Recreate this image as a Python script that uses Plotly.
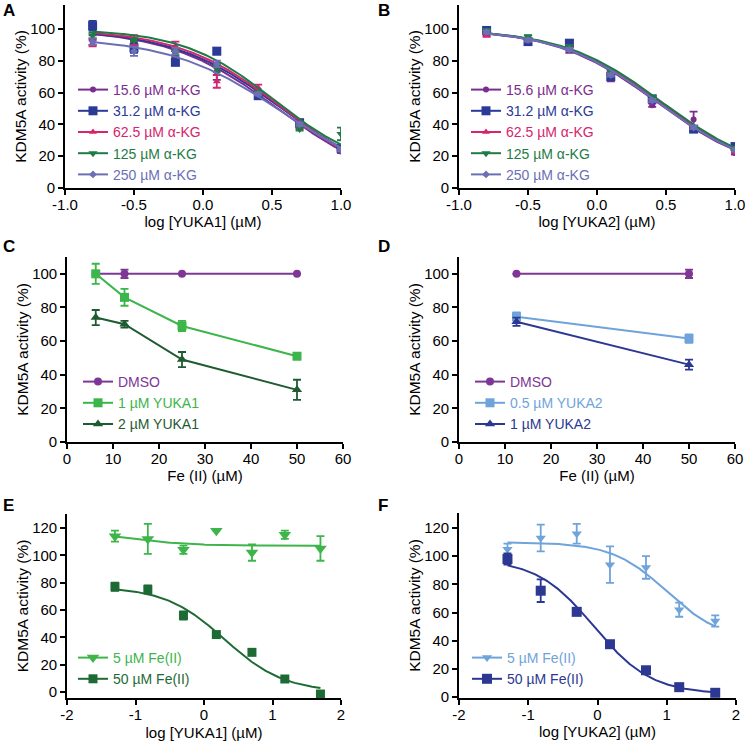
import numpy as np
import plotly.graph_objects as go

W, H = 745, 741
FONT = "Liberation Sans, Arial, sans-serif"

# ---------------- Panel A / B data ----------------
log_yuka_ab = [-0.8, -0.5, -0.2, 0.1, 0.4, 0.7, 1.0]
akg_labels = ["15.6 µM α-KG", "31.2 µM α-KG", "62.5 µM α-KG", "125 µM α-KG", "250 µM α-KG"]
akg_colors = ["#7B2D8F", "#2B3A97", "#D6246E", "#1E7B45", "#6B6FB5"]
akg_symbols = ["circle", "square", "triangle-up", "triangle-down", "diamond"]
akg_sizes = [6, 9, 7, 8, 6]

a_15_6 = [93, 91, 84, 73, 58, 40, 23]
a_31_2 = [102, 88, 79, 86, 58, 41, 25]
a_62_5 = [91, 93, 89, 67, 63, 38, 24]
a_125 = [96, 93, 85, 75, 60, 37, 34]
a_250 = [92, 86, 86, 78, 59, 40, 24]
a_err_15_6 = [3, 2, 2, 5, 2, 2, 1]
a_err_31_2 = [3, 3, 2, 2, 2, 2, 1]
a_err_62_5 = [2, 3, 3, 4, 2, 1, 1]
a_err_125 = [2, 1, 2, 2, 1, 1, 4]
a_err_250 = [2, 3, 2, 2, 1, 1, 1]
# fit parameters (top, bottom, logIC50, hill)
a_fit = [(100, 0, 0.54, 1.10), (100, 0, 0.57, 1.10), (100, 0, 0.58, 1.15),
         (100, 10, 0.52, 1.30), (95, 0, 0.58, 1.05)]

b_15_6 = [97, 93, 87, 69, 52, 43, 22]
b_31_2 = [99, 92, 91, 70, 56, 37, 26]
b_62_5 = [96, 93, 88, 72, 55, 38, 23]
b_125 = [99, 95, 89, 73, 57, 38, 25]
b_250 = [98, 93, 87, 71, 55, 38, 24]
b_err_15_6 = [1, 1, 2, 2, 1, 5, 1]
b_err_31_2 = [1, 2, 2, 2, 1, 1, 2]
b_err_62_5 = [1, 1, 1, 1, 1, 1, 1]
b_err_125 = [1, 1, 1, 1, 1, 1, 1]
b_err_250 = [1, 1, 1, 1, 1, 1, 1]
b_fit = [(100, 8, 0.43, 1.20), (100, 8, 0.45, 1.20), (100, 8, 0.45, 1.20),
         (100, 8, 0.47, 1.20), (100, 8, 0.44, 1.20)]

# ---------------- Panel C / D data ----------------
fe_c = [6.25, 12.5, 25, 50]
c_labels = ["DMSO", "1 µM YUKA1", "2 µM YUKA1"]
c_colors = ["#7E3794", "#3CB54A", "#1E5B30"]
c_symbols = ["circle", "square", "triangle-up"]
c_dmso = [100, 100, 100, 100]
c_1um = [100, 86, 69, 51]
c_2um = [74, 70, 49, 31]
c_err_dmso = [0, 2.5, 0, 0]
c_err_1um = [6, 5, 3, 1]
c_err_2um = [4.5, 2, 4.5, 6]

fe_d = [12.5, 50]
d_labels = ["DMSO", "0.5 µM YUKA2", "1 µM YUKA2"]
d_colors = ["#7E3794", "#6FA3DB", "#2C3891"]
d_symbols = ["circle", "square", "triangle-up"]
d_dmso = [100, 100]
d_05um = [74.5, 61.5]
d_1um = [71.5, 46]
d_err_dmso = [0, 2.5]
d_err_05um = [2.5, 2.5]
d_err_1um = [2.5, 3]

# ---------------- Panel E / F data ----------------
log_yuka_ef = [-1.3, -0.82, -0.3, 0.18, 0.7, 1.18, 1.7]
fe_labels = ["5 µM Fe(II)", "50 µM Fe(II)"]
e_colors = ["#3DB54A", "#1E6A35"]
f_colors = ["#6FA3DB", "#2C3891"]
ef_symbols = ["triangle-down", "square"]

e_5 = [114, 112, 104, 118, 102, 115, 105]
e_50 = [77, 75, 56, 42, 29, 9.5, -1.5]
e_err_5 = [4, 11, 3, 0, 6, 3, 9]
e_err_50 = [3, 3, 3, 2, 2, 1, 2]
e_fit = [(118, 107, -1.1, 1.0), (77, 0, 0.3, 1.0)]

f_5 = [105, 113, 116, 94, 92, 62, 54]
f_50 = [98, 75.5, 60.5, 37.5, 19, 7, 3]
f_err_5 = [4, 9.5, 7, 13, 8, 5, 4]
f_err_50 = [4, 8, 1, 1.5, 1.5, 1, 1]
f_fit = [(110, 40, 1.0, 1.1), (98, 2, -0.05, 1.05)]


def logistic(x, top, bottom, logic50, hill):
    return bottom + (top - bottom) / (1 + 10 ** ((x - logic50) * hill))


fig = go.Figure()


def styled(name, color):
    return f'<span style="color:{color}">{name}</span>'


def add_fit_panel(xs, series, errs, fits, labels, colors, symbols, sizes, xa, ya, leg):
    grid = np.linspace(min(xs), max(xs), 200)
    for ys, er, fp, lab, col, sym, sz in zip(series, errs, fits, labels, colors, symbols, sizes):
        fig.add_trace(go.Scatter(x=grid, y=logistic(grid, *fp), mode="lines",
                                 line=dict(color=col, width=2), showlegend=False,
                                 xaxis=xa, yaxis=ya, hoverinfo="skip"))
        fig.add_trace(go.Scatter(x=xs, y=ys, mode="markers",
                                 marker=dict(color=col, symbol=sym, size=sz),
                                 error_y=dict(type="data", array=er, color=col, thickness=1.8, width=4),
                                 showlegend=False, xaxis=xa, yaxis=ya))
    for lab, col, sym, sz in zip(labels, colors, symbols, sizes):
        fig.add_trace(go.Scatter(x=[None], y=[None], mode="lines+markers",
                                 line=dict(color=col, width=2),
                                 marker=dict(color=col, symbol=sym, size=sz),
                                 name=styled(lab, col), legend=leg, xaxis=xa, yaxis=ya))


def add_line_panel(xs, series, errs, labels, colors, symbols, sizes, xa, ya, leg):
    for ys, er, lab, col, sym, sz in zip(series, errs, labels, colors, symbols, sizes):
        fig.add_trace(go.Scatter(x=xs, y=ys, mode="lines+markers",
                                 line=dict(color=col, width=2),
                                 marker=dict(color=col, symbol=sym, size=sz),
                                 error_y=dict(type="data", array=er, color=col, thickness=1.8, width=4),
                                 name=styled(lab, col), legend=leg, xaxis=xa, yaxis=ya))


add_fit_panel(log_yuka_ab, [a_15_6, a_31_2, a_62_5, a_125, a_250],
              [a_err_15_6, a_err_31_2, a_err_62_5, a_err_125, a_err_250], a_fit,
              akg_labels, akg_colors, akg_symbols, akg_sizes, "x", "y", "legend")
add_fit_panel(log_yuka_ab, [b_15_6, b_31_2, b_62_5, b_125, b_250],
              [b_err_15_6, b_err_31_2, b_err_62_5, b_err_125, b_err_250], b_fit,
              akg_labels, akg_colors, akg_symbols, akg_sizes, "x2", "y2", "legend2")
add_line_panel(fe_c, [c_dmso, c_1um, c_2um], [c_err_dmso, c_err_1um, c_err_2um],
               c_labels, c_colors, c_symbols, [8, 9, 9], "x3", "y3", "legend3")
add_line_panel(fe_d, [d_dmso, d_05um, d_1um], [d_err_dmso, d_err_05um, d_err_1um],
               d_labels, d_colors, d_symbols, [8, 9, 9], "x4", "y4", "legend4")
add_fit_panel(log_yuka_ef, [e_5, e_50], [e_err_5, e_err_50], e_fit,
              fe_labels, e_colors, ef_symbols, [11, 9], "x5", "y5", "legend5")
add_fit_panel(log_yuka_ef, [f_5, f_50], [f_err_5, f_err_50], f_fit,
              fe_labels, f_colors, ef_symbols, [9, 10], "x6", "y6", "legend6")


def px_x(a, b):
    return [a / W, b / W]


def px_y(top, bottom):
    return [1 - bottom / H, 1 - top / H]


def xaxis(domain, rng, vals, texts, title, anchor, standoff=2):
    return dict(domain=domain, range=rng, tickvals=vals, ticktext=texts, anchor=anchor,
                automargin=False, ticklabeloverflow="allow",
                showline=True, linecolor="black", linewidth=1.6, ticks="outside", ticklen=5,
                tickwidth=1.6, tickcolor="black", showgrid=False, zeroline=False,
                ticklabelstandoff=-3,
                tickfont=dict(size=15, color="black", family=FONT),
                title=dict(text=title, font=dict(size=15, color="black", family=FONT), standoff=standoff))


def yaxis(domain, rng, vals, anchor):
    return dict(domain=domain, range=rng, tickvals=vals, ticktext=[str(v) for v in vals], anchor=anchor,
                automargin=False, ticklabeloverflow="allow",
                showline=True, linecolor="black", linewidth=1.6, ticks="outside", ticklen=5,
                tickwidth=1.6, tickcolor="black", showgrid=False, zeroline=False,
                tickfont=dict(size=15, color="black", family=FONT),
                title=dict(text="KDM5A activity (%)", font=dict(size=15.5, color="black", family=FONT), standoff=0))


ab_vals = [-1.0, -0.5, 0.0, 0.5, 1.0]
ab_text = ["-1.0", "-0.5", "0.0", "0.5", "1.0"]
cd_vals = [0, 10, 20, 30, 40, 50, 60]
cd_text = [str(v) for v in cd_vals]
ef_vals = [-2, -1, 0, 1, 2]
ef_text = ["-2", "-1", "0", "1", "2"]


def legend(x, y):
    return dict(x=x, y=y, xanchor="left", yanchor="bottom", bgcolor="rgba(0,0,0,0)",
                borderwidth=0, font=dict(size=14, family=FONT), itemwidth=30,
                tracegroupgap=0, itemclick=False)


fig.update_layout(
    template="none",
    width=W, height=H, margin=dict(l=0, r=0, t=0, b=0, autoexpand=False),
    paper_bgcolor="white", plot_bgcolor="white",
    font=dict(family=FONT, color="black"),
    xaxis=xaxis(px_x(65, 341), [-1, 1], ab_vals, ab_text, "log [YUKA1] (µM)", "y"),
    yaxis=yaxis(px_y(5, 188), [0, 115], [0, 20, 40, 60, 80, 100], "x"),
    xaxis2=xaxis(px_x(459, 735), [-1, 1], ab_vals, ab_text, "log [YUKA2] (µM)", "y2"),
    yaxis2=yaxis(px_y(5, 188), [0, 115], [0, 20, 40, 60, 80, 100], "x2"),
    xaxis3=xaxis(px_x(67, 343), [0, 60], cd_vals, cd_text, "Fe (II) (µM)", "y3"),
    yaxis3=yaxis(px_y(257, 442), [0, 110], [0, 20, 40, 60, 80, 100], "x3"),
    xaxis4=xaxis(px_x(459, 735), [0, 60], cd_vals, cd_text, "Fe (II) (µM)", "y4"),
    yaxis4=yaxis(px_y(257, 442), [0, 110], [0, 20, 40, 60, 80, 100], "x4"),
    xaxis5=xaxis(px_x(67, 341), [-2, 2], ef_vals, ef_text, "log [YUKA1] (µM)", "y5", 7),
    yaxis5=yaxis(px_y(514, 698), [-4.4, 130.2], [0, 20, 40, 60, 80, 100, 120], "x5"),
    xaxis6=xaxis(px_x(459, 736), [-2, 2], ef_vals, ef_text, "log [YUKA2] (µM)", "y6", 5),
    yaxis6=yaxis(px_y(513, 698), [-0.7, 130.7], [0, 20, 40, 60, 80, 100, 120], "x6"),
    legend=legend(73 / W, 1 - 190 / H),
    legend2=legend(466 / W, 1 - 190 / H),
    legend3=legend(78 / W, 1 - 440 / H),
    legend4=legend(470 / W, 1 - 440 / H),
    legend5=legend(73 / W, 1 - 695 / H),
    legend6=legend(467 / W, 1 - 695 / H),
)

letters = [("A", 1, 10), ("B", 376, 10), ("C", 1, 247), ("D", 376, 247), ("E", 1, 505), ("F", 376, 505)]
for t, x, y in letters:
    fig.add_annotation(text=f"<b>{t}</b>", x=x / W, y=1 - y / H, xref="paper", yref="paper",
                       xanchor="left", yanchor="middle", showarrow=False,
                       font=dict(size=17, color="black", family=FONT))

fig.write_html("out.html", config={"displayModeBar": False},
               post_script="document.body.style.margin='0';document.body.style.overflow='hidden';")
